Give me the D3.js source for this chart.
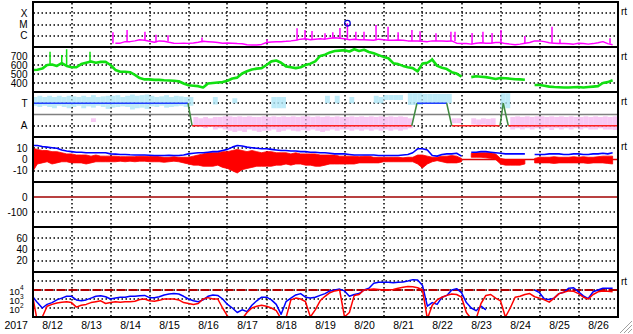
<!DOCTYPE html>
<html><head><meta charset="utf-8">
<script src="https://cdn.jsdelivr.net/npm/d3@7"></script>
<style>
body{margin:0;background:#fff;}
svg{display:block;font-family:"Liberation Sans",Arial,Helvetica,sans-serif;}
</style></head><body>
<svg id="c" width="633" height="334"></svg>
<script>
// ---------------- DATA (3-hour bins from 2017-08-12 00:00 UT) ----------------
const dayLabels = ["8/12","8/13","8/14","8/15","8/16","8/17","8/18","8/19","8/20","8/21","8/22","8/23","8/24","8/25","8/26"];
const yearLabel = "2017";
const xrayTicks = [1e-6,1e-5,1e-4];
const xrayTickLabels = ["C","M","X"];
const speedTicks = [400,500,600,700];
const sectorTicks = [90,270];
const sectorTickLabels = ["A","T"];
const imfTicks = [-10,0,10];
const dstTicks = [-100,0];
const kpTicks = [20,40,60];
const elecTicks = [1e2,1e3,1e4];
const elecGrid = [1e2,1e3,1e4,1e5];

// X-ray flux, units of 1e-7 W/m2
const xrayBase = [
 null,null,null,null,null,null,null,null,
 null,null,null,null,null,null,null,null,
 null,2.2,2.2,3.0,3.0,3.5,4.5,4.0,
 3.2,2.6,3.5,3.2,2.6,2.2,2.1,2.2,
 2.1,2.3,2.6,3.2,3.0,2.8,2.5,2.2,
 2.3,2.2,2.0,1.9,1.6,1.5,1.5,1.7,
 2.5,2.8,3.0,3.0,3.2,3.5,4.0,5.0,
 5.5,4.5,5.0,5.5,5.0,6.0,6.5,6.0,
 5.5,4.5,5.0,4.5,4.5,4.2,4.0,5.0,
 4.5,4.0,4.0,4.2,4.0,3.5,3.5,3.5,
 3.2,3.0,3.5,3.5,3.5,3.2,3.5,2.2,
 2.0,2.0,1.8,2.2,2.4,2.2,2.2,2.5,
 2.5,2.0,1.8,1.6,1.8,2.2,2.5,3.5,
 3.5,3.0,2.4,2.2,2.0,2.0,1.9,1.8,
 2.2,2.0,1.8,2.0,2.4,3.0,2.0,1.6];
const xraySpikeHours = [49.5,58.2,69.2,76,83.4,104.3,144.3,162.8,167.7,172,180,184.8,189.2,193.8,199,204,211.4,218.8,225,233.5,238.5,248.3,257.5,260,270.5,277.2,282.8,288.3,303,319.7,324.6,355.4];
const xraySpikePeaks = [20,32,23,12,11,7,5,46,32,26,17,20,50,130,23,23,90,64,20,32,25,17,23,23,18,23,18,32,9.5,64,5,6];
const flareHours = [193.8];
const flareFlux = [1.3e-5];

// Solar wind speed km/s
const speed = [
 545,548,560,600,605,590,620,590,
 575,575,610,625,640,625,635,635,
 600,545,525,525,520,490,455,440,
 440,435,435,430,428,425,420,395,
 375,370,365,350,395,400,405,410,
 425,450,460,505,530,550,560,565,
 600,640,650,625,585,575,565,575,
 600,615,640,700,715,740,755,760,
 765,750,775,755,770,745,730,710,
 690,675,620,610,590,575,565,530,
 615,625,660,590,570,555,520,505,
 470,null,465,475,470,465,455,445,
 455,452,448,442,440,436,null,378,
 378,370,360,355,352,350,350,352,
 355,350,355,360,365,400,410,430];
const speedSpikeHours = [10.8,18,21,35.4,246];
const speedSpikePeaks = [748,711,774,748,680];

// IMF sector: phi scatter bands (deg) and polarity
const towardHi = [
 320,330,320,330,320,330,320,330,
 325,320,330,320,335,320,325,330,
 330,335,320,330,340,330,335,340,
 330,320,325,335,320,330,325,320,
 320,null,null,null,null,320,null,null,
 null,310,null,null,null,null,null,null,
 null,320,320,320,null,null,null,null,
 null,null,null,null,330,null,330,null,
 null,320,null,null,null,null,330,320,
 336,336,336,336,null,350,350,350,
 345,345,345,345,345,345,null,null,
 null,null,null,null,null,null,null,null,
 350,350,null,null,null,null,null,null,
 null,null,null,null,null,null,null,null,
 null,null,null,null,null,null,null,null];
const towardLo = [
 250,240,250,240,230,250,240,230,
 240,250,230,245,235,250,240,225,
 235,240,245,240,220,230,235,225,
 245,240,250,235,240,245,250,240,
 250,null,null,null,null,260,null,null,
 null,270,null,null,null,null,null,null,
 null,230,230,230,null,null,null,null,
 null,null,null,null,270,null,270,null,
 null,270,null,null,null,null,270,270,
 296,296,296,296,null,256,256,256,
 270,270,270,270,270,270,null,null,
 null,null,null,null,null,null,null,null,
 230,230,null,null,null,null,null,null,
 null,null,null,null,null,null,null,null,
 null,null,null,null,null,null,null,null];
const awayHi = [
 null,null,null,null,null,null,null,null,
 null,null,null,null,150,null,null,null,
 null,null,null,null,null,null,null,null,
 null,null,null,null,null,null,null,null,
 null,160,150,160,150,160,160,165,
 165,160,165,160,165,160,160,165,
 160,165,160,165,160,165,160,165,
 165,160,165,160,165,160,165,160,
 160,165,160,165,160,165,160,165,
 160,165,160,165,160,150,null,null,
 null,null,null,null,null,null,150,150,
 null,null,150,140,150,145,150,null,
 null,null,160,165,160,165,160,165,
 165,160,165,160,165,160,165,160,
 160,165,160,165,160,165,160,165];
const awayLo = [
 null,null,null,null,null,null,null,null,
 null,null,null,null,120,null,null,null,
 null,null,null,null,null,null,null,null,
 null,null,null,null,null,null,null,null,
 null,90,80,70,80,60,70,60,
 50,40,50,40,60,50,40,50,
 50,60,40,50,60,50,45,55,
 50,60,50,40,50,60,50,60,
 60,50,60,50,60,50,60,50,
 60,50,60,50,60,70,null,null,
 null,null,null,null,null,null,110,110,
 null,null,100,90,100,95,90,null,
 null,null,60,70,60,70,60,70,
 60,70,56,70,60,70,60,70,
 60,70,60,60,70,60,60,56];
const sectorHours = [0,95.7,98.2,233.4,236.6,254.9,258,287.7,289.7,292.8,360];
const sectorPolarity = ["T","T","A","A","T","T","A","A","T","A","A"];

// IMF Bt and Bz envelope (nT)
const bt = [
 12.5,12.5,11.5,11,10.5,10,8.5,7.5,
 7,6.5,6.5,6,6,6,6,6,
 5,4.8,4.5,4.5,4.2,4,4,4,
 3.8,3.5,3.5,3.5,3.8,3.5,3.5,4,
 5,5.5,6,6,6.5,7,7,8,
 9,11,12.5,12,11,10.5,10,9.5,
 9.5,9,8.5,8,8,7.5,7.5,7,
 7,6.5,6.5,6,6,5.5,5,5,
 5,4.5,4,4,4,4,4,3.5,
 3.5,3.5,3.5,3.5,4,4.5,6,9.5,
 9.5,8.5,3.5,3,4.5,5,5,5.5,
 3,null,6.5,6.5,7,7,6.5,6,
 5.5,5,5,5,5,5,null,4.5,
 4.5,4.5,5,5,5,4.5,4.5,5,
 5,4.5,4.5,5,5,5.5,5,6];
const bzHi = [
 10,9,8,8,7,7,6,5,
 5,4,4,4,3,4,3,3,
 3,3,2.5,2.5,2.5,2.5,3,3,
 2.5,3,2.5,2,2,2.5,2,2,
 2,3,4,5,6,6,6,7,
 7,8,9,8,7,8,7,6,
 7,7,6,6,6,5,6,5,
 5,5,5,4,4,4,4,3,
 3,3,3,2.5,3,3,2,2,
 2,2,2,2,1.5,2,2,4,
 4,3,2,2,3,3,3.5,3,
 1,null,5.5,6,6,6,6,5,
 1,0,0,0,0,0,null,1,
 2,2,2,2.5,2,2,2,2.5,
 2,2.5,2,2,2.5,3,3,3];
const bzLo = [
 -11,-4,-3,-2,-4,-3,-2,-2,
 -3,-3,-3,-4,-3,-2,-2,-2,
 -2,-2,-1.5,-2,-1.5,-2,-1.5,-1.5,
 -2,-2,-2,-2.5,-2,-1.5,-2,-3,
 -4,-5,-5,-6,-6,-6,-5,-7,
 -8,-10,-12,-9,-8,-7,-6,-6,
 -6,-6,-5,-5,-4,-5,-4,-4,
 -5,-5,-6,-6,-5,-4,-4,-4,
 -4,-4,-4,-3,-3,-3,-3,-3,
 -2,-2,-2,-2,-2,-2,-2,-4,
 -7.5,-4,-2,-1,-2,-3,-3,-3,
 -2,null,2,2,2,1.5,1,0,
 -4,-5,-5,-5,-5,-4,null,-3,
 -3,-3,-3,-3.5,-3,-3,-3,-3,
 -3,-3,-3.5,-3,-3,-3,-3.5,-4];

// Electron flux, log10 values
const eBlueLog = [
 3.3,2.6,2.0,2.4,2.6,2.9,3.1,3.3,
 3.3,2.9,2.8,2.9,3.1,3.3,3.35,3.25,
 3.0,3.1,3.2,3.2,3.3,3.3,3.35,3.4,
 3.15,3.15,3.25,3.45,3.55,3.6,3.55,3.3,
 3.0,2.8,2.7,2.9,3.3,3.45,3.4,3.0,
 2.4,2.0,1.5,1.8,1.6,2.3,2.8,3.2,
 3.2,2.9,2.4,1.3,2.7,3.1,3.45,3.6,
 3.2,3.1,3.2,3.4,3.6,3.9,4.0,4.1,
 3.9,3.3,3.5,3.6,4.0,4.2,4.75,4.85,
 4.85,4.85,4.8,4.85,4.9,5.0,5.15,5.1,
 4.5,2.2,2.6,2.4,3.2,3.4,4.0,4.15,
 3.7,2.6,2.0,1.7,2.2,1.8,null,null,
 null,null,null,null,null,null,null,4.0,
 3.7,3.0,2.95,3.1,3.6,3.75,4.2,4.25,
 3.8,3.35,3.05,3.8,4.0,4.2,4.2,4.2];
const eRedLog = [
 3.4,0.5,1.0,2.2,2.4,2.55,2.65,2.7,
 2.6,2.1,2.3,2.4,2.6,2.7,2.8,2.5,
 2.6,2.7,2.65,2.7,2.7,2.75,2.95,3.0,
 2.8,2.75,2.85,3.0,3.0,3.0,2.9,2.6,
 2.5,2.4,2.5,3.0,3.15,3.0,3.0,2.0,
 1.1,0.8,0.8,0.8,1.5,2.0,2.2,2.3,
 2.2,2.0,1.7,0.8,0.9,2.9,3.1,3.0,
 2.7,1.0,1.8,2.8,3.3,3.7,3.9,4.0,
 1.0,1.5,3.4,3.5,4.0,4.05,4.1,4.05,
 4.0,4.0,4.05,4.2,4.3,4.4,4.35,4.25,
 4.0,0.8,2.3,2.9,3.2,3.4,3.55,3.5,
 3.2,1.5,0.8,0.8,2.5,3.4,3.5,3.1,
 2.8,1.0,2.0,3.2,3.3,3.5,3.6,3.25,
 3.1,2.9,2.65,3.1,3.6,3.75,3.9,3.85,
 3.6,3.2,3.0,3.5,3.8,3.9,3.85,3.8];
const eThreshold = 1e4;

// ---------------- CHART ----------------
const STEP = 3;
const svg = d3.select("#c");
const x = d3.scaleLinear().domain([0, 360]).range([32.5, 617.5]);
const tops = [2,47,92,137,182,227,272,317];
const pr = i => [tops[i+1], tops[i]];
const yX = d3.scaleLog().domain([1e-7,1e-3]).range(pr(0));
const yV = d3.scaleLinear().domain([300,800]).range(pr(1));
const yS = d3.scaleLinear().domain([0,360]).range(pr(2));
const yB = d3.scaleLinear().domain([-20,20]).range(pr(3));
const yD = d3.scaleLinear().domain([-200,100]).range(pr(4));
const yK = d3.scaleLinear().domain([0,80]).range(pr(5));
const yE = d3.scaleLog().domain([10,1e6]).range(pr(6));

svg.append("rect").attr("width",633).attr("height",334).attr("fill","#fff");
const defs = svg.append("defs");
for (let i=0;i<7;i++){
  defs.append("clipPath").attr("id","cp"+i).append("rect")
    .attr("x",x(0)).attr("y",tops[i]).attr("width",x(360)-x(0)).attr("height",tops[i+1]-tops[i]);
}
const dot = {stroke:"#000","stroke-width":1.5,"stroke-dasharray":"1.5,2.5"};
function applyAttrs(sel,o){for(const k in o) sel.attr(k,o[k]); return sel;}

// grid
const grid = svg.append("g");
function hgrid(y, vals){
  vals.forEach(v=>{
    const yy = Math.round(y(v));
    applyAttrs(grid.append("line").attr("x1",x(0)+1).attr("x2",x(360)).attr("y1",yy).attr("y2",yy),dot);
  });
}
hgrid(yX, xrayTicks); hgrid(yV, speedTicks); hgrid(yS, sectorTicks); hgrid(yB,[-10,10]);
hgrid(yD,[-100]); hgrid(yK,kpTicks); hgrid(yE,elecGrid);
for (let d=1; d<15; d++){
  const xx = Math.round(x(d*24));
  applyAttrs(grid.append("line").attr("x1",xx).attr("x2",xx).attr("y1",tops[0]+1).attr("y2",tops[7]),dot);
}

const bins = arr => arr.map((v,i)=>({h:i*STEP, v}));
function drawLine(panel, data, y, color, w, conv){
  const g = svg.append("g").attr("clip-path",`url(#cp${panel})`);
  const line = d3.line().defined(d=>d.v!=null).x(d=>x(d.h)).y(d=>y(conv?conv(d.v):d.v));
  g.append("path").datum(data).attr("d",line).attr("fill","none").attr("stroke",color).attr("stroke-width",w).attr("stroke-linejoin","round");
  return g;
}

// Panel 1: X-ray
const gx = drawLine(0, bins(xrayBase), yX, "#ff00ff", 1.5, v=>v*1e-7);
xraySpikeHours.forEach((h,i)=>{
  const b = xrayBase[Math.min(xrayBase.length-1, Math.floor(h/STEP))];
  gx.append("line").attr("x1",x(h)).attr("x2",x(h)).attr("y1",yX((b||2)*1e-7)).attr("y2",yX(xraySpikePeaks[i]*1e-7))
    .attr("stroke","#ff00ff").attr("stroke-width",1.5);
});
flareHours.forEach((h,i)=>{
  svg.append("circle").attr("cx",x(h)).attr("cy",yX(flareFlux[i])).attr("r",2.8)
    .attr("fill","none").attr("stroke","#0000cc").attr("stroke-width",1.2);
});

// Panel 2: speed
const gv = drawLine(1, bins(speed), yV, "#11e011", 2.6);
speedSpikeHours.forEach((h,i)=>{
  const b = speed[Math.floor(h/STEP)];
  gv.append("line").attr("x1",x(h)).attr("x2",x(h)).attr("y1",yV(b)).attr("y2",yV(speedSpikePeaks[i]))
    .attr("stroke","#11e011").attr("stroke-width",1.5);
});

// Panel 3: sector
const gs = svg.append("g").attr("clip-path","url(#cp2)");
const bw = x(STEP)-x(0);
towardHi.forEach((v,i)=>{
  if(v==null||towardLo[i]==null) return;
  gs.append("rect").attr("x",x(i*STEP)).attr("width",bw).attr("y",yS(v)).attr("height",yS(towardLo[i])-yS(v))
    .attr("fill","#aee6f6").attr("opacity",0.8);
});
awayHi.forEach((v,i)=>{
  if(v==null||awayLo[i]==null) return;
  gs.append("rect").attr("x",x(i*STEP)).attr("width",bw).attr("y",yS(v)).attr("height",yS(awayLo[i])-yS(v))
    .attr("fill","#f6b6f0").attr("opacity",0.75);
});
gs.append("line").attr("x1",x(0)).attr("x2",x(360)).attr("y1",yS(180)).attr("y2",yS(180)).attr("stroke","#808080").attr("stroke-width",1.3);
const pol = p => p==="T"?270:90;
for (let i=0;i<sectorHours.length-1;i++){
  const a=sectorPolarity[i], b=sectorPolarity[i+1];
  const col = a!==b ? "#3f8a3f" : (a==="T" ? "#2040ff" : "#ff2020");
  gs.append("line").attr("x1",x(sectorHours[i])).attr("x2",x(sectorHours[i+1]))
    .attr("y1",yS(pol(a))).attr("y2",yS(pol(b))).attr("stroke",col).attr("stroke-width",1.5);
}

// Panel 4: IMF
const gb = svg.append("g").attr("clip-path","url(#cp3)");
gb.append("line").attr("x1",x(0)).attr("x2",x(360)).attr("y1",yB(0)).attr("y2",yB(0)).attr("stroke","#e00000").attr("stroke-width",1.3);
const bzData = bzHi.map((v,i)=>({h:i*STEP, hi:v, lo:bzLo[i]}));
const area = d3.area().defined(d=>d.hi!=null).x(d=>x(d.h)).y0(d=>yB(d.lo)).y1(d=>yB(d.hi));
gb.append("path").datum(bzData).attr("d",area).attr("fill","#ff0000").attr("stroke","#ff0000").attr("stroke-width",0.8);
drawLine(3, bins(bt), yB, "#0000ff", 1.6);

// Panel 5: Dst zero line
svg.append("line").attr("x1",x(0)).attr("x2",x(360)).attr("y1",yD(0)).attr("y2",yD(0)).attr("stroke","#a00000").attr("stroke-width",1.4);

// Panel 7: electrons
svg.append("line").attr("x1",x(0)).attr("x2",x(360)).attr("y1",yE(eThreshold)).attr("y2",yE(eThreshold))
  .attr("stroke","#b00000").attr("stroke-width",1.8).attr("stroke-dasharray","9,3");
drawLine(6, bins(eBlueLog), yE, "#0000ff", 1.5, v=>Math.pow(10,v));
drawLine(6, bins(eRedLog), yE, "#ff0000", 1.5, v=>Math.pow(10,v));

// frames
const fr = svg.append("g").attr("stroke","#000").attr("stroke-width",2).attr("shape-rendering","crispEdges");
fr.append("rect").attr("x",x(0)).attr("y",tops[0]).attr("width",x(360)-x(0)).attr("height",tops[7]-tops[0]).attr("fill","none");
tops.slice(1,7).forEach(t=>fr.append("line").attr("x1",x(0)).attr("x2",x(360)).attr("y1",t).attr("y2",t));

// axes labels
const FS = 10;
function leftAxis(y, vals, fmt, fs){
  const g = svg.append("g").attr("transform",`translate(${x(0)},0)`)
    .call(d3.axisLeft(y).tickValues(vals).tickFormat(fmt).tickSize(0).tickPadding(5));
  g.select(".domain").remove();
  g.selectAll("text").attr("font-size",fs||FS).attr("fill","#000").attr("font-family","Liberation Sans, Arial, sans-serif");
  return g;
}
leftAxis(yX, xrayTicks, (d,i)=>xrayTickLabels[i]);
leftAxis(yV, speedTicks, d=>d);
leftAxis(yS, sectorTicks, (d,i)=>sectorTickLabels[i]);
leftAxis(yB, imfTicks, d=>d);
leftAxis(yD, dstTicks, d=>d);
leftAxis(yK, kpTicks, d=>d);
const ge = leftAxis(yE, elecTicks, d=>"10", 9.5);
ge.selectAll("text").attr("dx",-4).attr("dy","0.45em").each(function(d){
  d3.select(this).append("tspan").attr("dy",-4.5).attr("font-size",6.5).text(Math.round(Math.log10(d)));
});
const gbx = svg.append("g").attr("transform",`translate(0,${tops[7]})`)
  .call(d3.axisBottom(x).tickValues(dayLabels.map((d,i)=>i*24+12)).tickFormat((d,i)=>dayLabels[i]).tickSize(0).tickPadding(5));
gbx.select(".domain").remove();
gbx.selectAll("text").attr("font-size",10.5).attr("fill","#000").attr("font-family","Liberation Sans, Arial, sans-serif");
svg.append("text").attr("x",4.5).attr("y",329).attr("font-size",10.5).text(yearLabel);

// right side labels
[0,1,2,3,6].forEach(p=>{
  svg.append("text").attr("x",621).attr("y",tops[p]+13).attr("font-size",10).text("rt");
});
// resize grip
[[620,333,632,321],[624,333,632,325],[628,333,632,329]].forEach(l=>{
  svg.append("line").attr("x1",l[0]).attr("y1",l[1]).attr("x2",l[2]).attr("y2",l[3]).attr("stroke","#a0a0a0").attr("stroke-width",1);
});
</script>
</body></html>
